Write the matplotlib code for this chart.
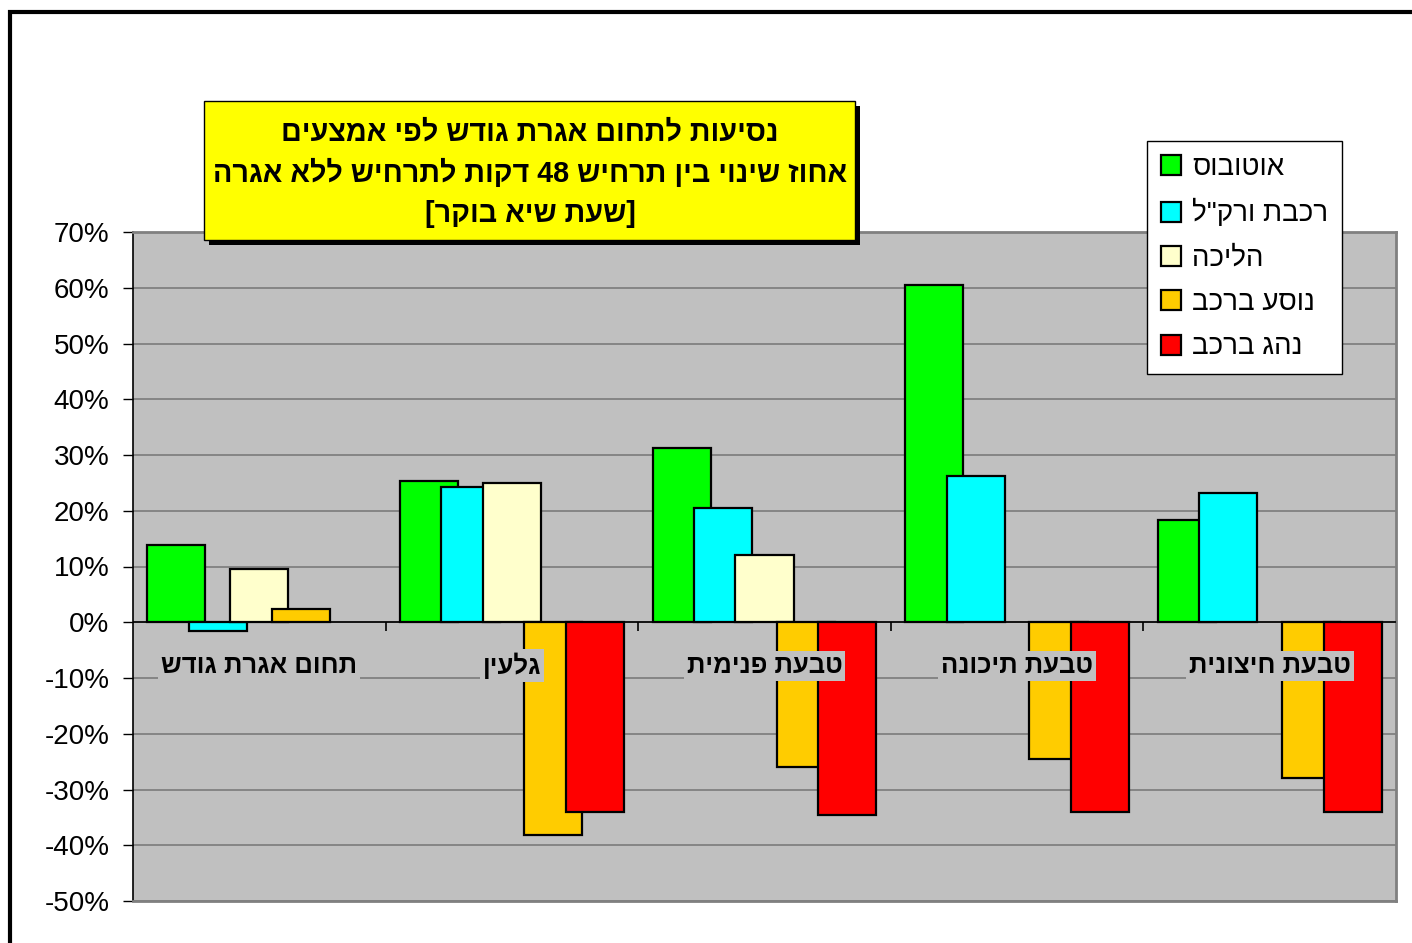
import re

import matplotlib
matplotlib.use("Agg")
import matplotlib.pyplot as plt
import numpy as np
from matplotlib.patches import Rectangle
from matplotlib.ticker import FuncFormatter

plt.rcParams["font.family"] = ["Liberation Sans", "DejaVu Sans"]


def rtl(s):
    """Turn logical Hebrew text into visual (left-to-right) order for matplotlib."""
    r = s[::-1]
    r = re.sub(r"\d+", lambda m: m.group(0)[::-1], r)
    return r.translate(str.maketrans("[]()", "][)("))


# --- data ---
categories = ["תחום אגרת גודש", "גלעין", "טבעת פנימית", "טבעת תיכונה", "טבעת חיצונית"]
series_names = ["אוטובוס", "רכבת ורק\"ל", "הליכה", "נוסע ברכב", "נהג ברכב"]
bus = [0.138, 0.253, 0.312, 0.605, 0.183]
rail = [-0.016, 0.243, 0.205, 0.262, 0.231]
walk = [0.095, 0.249, 0.120, np.nan, np.nan]
passenger = [0.023, -0.381, -0.259, -0.246, -0.280]
driver = [np.nan, -0.341, -0.346, -0.341, -0.341]
series_values = [bus, rail, walk, passenger, driver]
colors = ["#00FF00", "#00FFFF", "#FFFFCC", "#FFCC00", "#FF0000"]

title_lines = [
    "נסיעות לתחום אגרת גודש לפי אמצעים",
    "אחוז שינוי בין תרחיש 48 דקות לתרחיש ללא אגרה",
    "[שעת שיא בוקר]",
]

W, H = 1412, 943
fig = plt.figure(figsize=(W / 100, H / 100), dpi=100)
fig.patch.set_facecolor("white")

ax = fig.add_axes([133 / W, 1 - 901 / H, (1396 - 133) / W, (901 - 232) / H])
ax.set_facecolor("#C0C0C0")

x = np.arange(len(categories))
step = 0.164
width = 0.23
bars = []
for j, (name, vals, c) in enumerate(zip(series_names, series_values, colors)):
    b = ax.bar(x + (j - 2) * step, vals, width, color=c, edgecolor="black",
               linewidth=1.6, label=rtl(name), zorder=2)
    bars.append(b)

ax.set_xlim(-0.5, len(categories) - 0.5)
ax.set_ylim(-0.5, 0.7)
ax.set_yticks(np.arange(-0.5, 0.71, 0.1))
ax.yaxis.set_major_formatter(FuncFormatter(lambda v, p: f"{int(round(v * 100))}%"))
ax.tick_params(axis="y", direction="out", length=7, width=1, labelsize=20, pad=10, colors="black")
ax.set_xticks([])
ax.yaxis.grid(True, color="#808080", linewidth=1.3)
ax.set_axisbelow(True)

for side in ["top", "right", "bottom"]:
    ax.spines[side].set_color("#808080")
    ax.spines[side].set_linewidth(2)
ax.spines["left"].set_color("black")
ax.spines["left"].set_linewidth(1.2)

# category axis sitting on the zero line
ax.axhline(0, color="black", linewidth=1.2, zorder=3)
ax.vlines(x[1:] - 0.5, -0.015, 0, color="black", linewidth=1.2, zorder=3)
for i, cat in enumerate(categories):
    ax.text(i, -0.078, rtl(cat), ha="center", va="center", fontsize=18.5,
            fontweight="bold", zorder=4,
            bbox=dict(boxstyle="square,pad=0.12", facecolor="#C0C0C0", edgecolor="none"))

# title box with shadow
bx0, by0, bx1, by1 = 204, 101, 855, 240
shadow = Rectangle(((bx0 + 5) / W, 1 - (by1 + 5) / H), (bx1 - bx0) / W, (by1 - by0) / H,
                   transform=fig.transFigure, facecolor="black", edgecolor="none", zorder=5)
box = Rectangle((bx0 / W, 1 - by1 / H), (bx1 - bx0) / W, (by1 - by0) / H,
                transform=fig.transFigure, facecolor="#FFFF00", edgecolor="black",
                linewidth=1, zorder=6)
fig.patches.extend([shadow, box])
for k, line in enumerate(title_lines):
    fig.text(530 / W, 1 - (133 + 40.5 * k) / H, rtl(line), ha="center", va="center",
             fontsize=20.7, fontweight="bold", zorder=7)

leg = fig.legend(handles=bars, loc="upper left", bbox_to_anchor=(1147 / W, 1 - 141 / H),
                 fontsize=20, frameon=True, fancybox=False, edgecolor="black",
                 framealpha=1, handlelength=0.72, handleheight=0.72, handletextpad=0.4,
                 labelspacing=0.66, borderpad=0.5, borderaxespad=0)
leg.get_frame().set_linewidth(1)
leg.set_zorder(8)

# outer frame of the chart (cut off at right and bottom)
frame = Rectangle((9.5 / W, -0.05), 1.1, 1 - 12 / H + 0.05, transform=fig.transFigure,
                  facecolor="none", edgecolor="black", linewidth=3, zorder=9)
fig.patches.append(frame)

fig.savefig("out.png", dpi=100)
